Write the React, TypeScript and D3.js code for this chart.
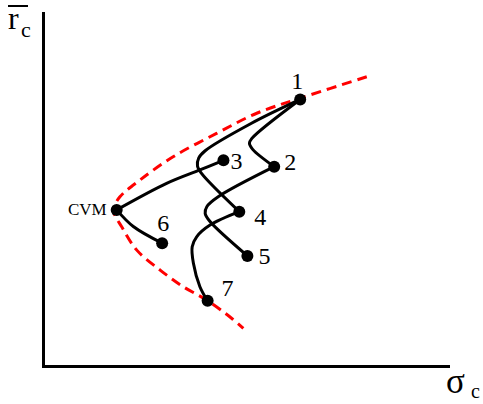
import React from "react";
import * as d3 from "d3";

// Portfolio points (sigma, mean return) in chart units
const pointNames = ["CVM", "1", "2", "3", "4", "5", "6", "7"];
const pointSigma = [1.79, 6.31, 5.67, 4.42, 4.81, 5.01, 2.91, 4.03];
const pointReturn = [4.41, 7.53, 5.63, 5.81, 4.36, 3.11, 3.47, 1.84];

// Minimum-variance frontier samples (sigma, return)
const frontierSigma = [7.95, 6.35, 5.24, 4.25, 3.18, 2.36, 1.87, 1.71, 1.73, 1.91, 2.28, 2.86, 3.43, 4.01, 4.62, 4.91];
const frontierReturn = [8.17, 7.58, 7.14, 6.57, 5.91, 5.25, 4.78, 4.45, 4.3, 3.94, 3.28, 2.71, 2.24, 1.86, 1.35, 1.06];

// Trajectories between portfolios
const pathCVM3Sigma = [1.79, 3.02, 3.84, 4.42];
const pathCVM3Return = [4.41, 5.16, 5.54, 5.81];
const pathCVM6Sigma = [1.79, 2.2, 2.91];
const pathCVM6Return = [4.41, 3.94, 3.47];
const path14Sigma = [6.31, 5.1, 3.97, 3.81, 3.78, 3.88, 4.81];
const path14Return = [7.53, 6.85, 6.08, 5.87, 5.65, 5.44, 4.36];
const path12Sigma = [6.31, 5.12, 5.06, 5.14, 5.67];
const path12Return = [7.53, 6.43, 6.29, 6.12, 5.63];
const path25Sigma = [5.67, 4.29, 4.01, 3.97, 4.09, 5.01];
const path25Return = [5.63, 4.78, 4.5, 4.31, 4.08, 3.11];
const path47Sigma = [4.81, 4.09, 3.76, 3.65, 3.68, 3.84, 4.03];
const path47Return = [4.36, 3.98, 3.65, 3.37, 2.9, 2.24, 1.84];

const W = 483;
const H = 404;

const x = d3.scaleLinear().domain([0, 10]).range([44, 450]);
const y = d3.scaleLinear().domain([0, 10]).range([366, 12]);

const zip = (a: number[], b: number[]) => a.map((v, i) => [v, b[i]] as [number, number]);

const line = d3
  .line<[number, number]>()
  .x((d) => x(d[0]))
  .y((d) => y(d[1]))
  .curve(d3.curveCatmullRom.alpha(0.5));

const paths = [
  zip(pathCVM3Sigma, pathCVM3Return),
  zip(pathCVM6Sigma, pathCVM6Return),
  zip(path14Sigma, path14Return),
  zip(path12Sigma, path12Return),
  zip(path25Sigma, path25Return),
  zip(path47Sigma, path47Return),
];

// label placement relative to each dot (px)
const labelOffset: Record<string, [number, number]> = {
  CVM: [-10, 0],
  "1": [-3, -18],
  "2": [16, -5],
  "3": [13, 1],
  "4": [21, 5],
  "5": [17, 0],
  "6": [1, -20],
  "7": [20, -13],
};

const serif = "'Liberation Serif', 'Times New Roman', serif";

export default function App() {
  return (
    <div style={{ position: "absolute", left: 0, top: 0 }}>
      <svg width={W} height={H} style={{ display: "block", background: "#fff" }}>
        {/* axes */}
        <line x1={43.5} y1={12} x2={43.5} y2={368} stroke="#000" strokeWidth={3} />
        <line x1={42} y1={366.5} x2={450} y2={366.5} stroke="#000" strokeWidth={3} />

        {/* axis labels */}
        <line x1={8} y1={6} x2={28} y2={6} stroke="#000" strokeWidth={2} />
        <text x={8} y={29} fontFamily={serif} fontSize={32}>
          r
        </text>
        <text x={21} y={37} fontFamily={serif} fontSize={22}>
          c
        </text>
        <text x={446} y={393} fontFamily={serif} fontSize={35}>
          σ
        </text>
        <text x={471} y={398} fontFamily={serif} fontSize={20}>
          c
        </text>

        {/* frontier */}
        <path
          d={line(zip(frontierSigma, frontierReturn)) || ""}
          fill="none"
          stroke="#ff0000"
          strokeWidth={3}
          strokeDasharray="10,6"
        />

        {/* trajectories */}
        {paths.map((p, i) => (
          <path key={i} d={line(p) || ""} fill="none" stroke="#000" strokeWidth={3} strokeLinecap="round" />
        ))}

        {/* points and labels */}
        {pointNames.map((n, i) => {
          const px = x(pointSigma[i]);
          const py = y(pointReturn[i]);
          const [dx, dy] = labelOffset[n];
          return (
            <g key={n}>
              <circle cx={px} cy={py} r={6} fill="#000" />
              <text
                x={px + dx}
                y={py + dy}
                fontFamily={serif}
                fontSize={n === "CVM" ? 17 : 24}
                textAnchor={n === "CVM" ? "end" : "middle"}
                dominantBaseline="central"
                fill="#000"
              >
                {n}
              </text>
            </g>
          );
        })}
      </svg>
    </div>
  );
}
